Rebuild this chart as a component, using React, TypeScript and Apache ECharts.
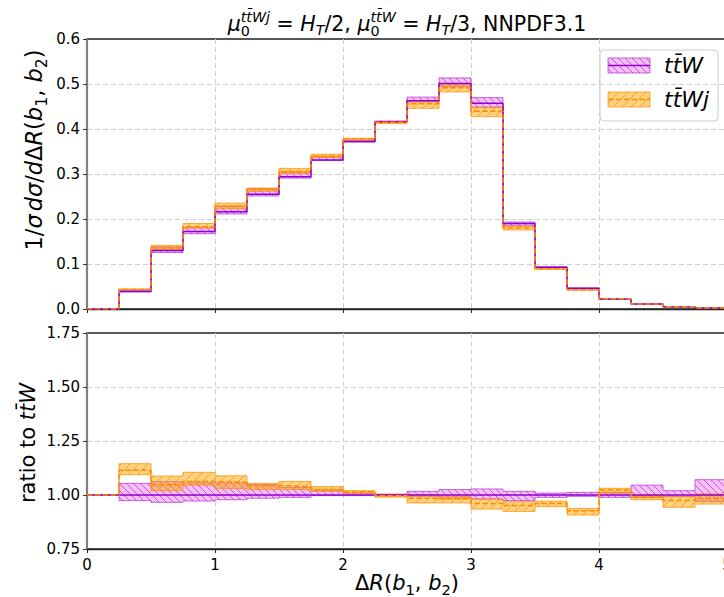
import React, { useEffect, useRef } from 'react';
import * as echarts from 'echarts';

// ---------------- data ----------------
const binEdges = [0, 0.25, 0.5, 0.75, 1, 1.25, 1.5, 1.75, 2, 2.25, 2.5, 2.75, 3, 3.25, 3.5, 3.75, 4, 4.25, 4.5, 4.75, 5];
// normalised distribution of ttW (central)
const ttW = [0, 0.039, 0.130, 0.172, 0.216, 0.255, 0.294, 0.331, 0.372, 0.416, 0.463, 0.501, 0.457, 0.190, 0.093, 0.046, 0.022, 0.011, 0.005, 0.0022];
// ratio ttW / ttW (central, band low, band high)
const ratioW = [1, 1, 1, 1, 1, 1, 1, 1, 1, 1, 1, 1, 1, 1, 1, 1, 1, 1, 1, 1];
const ratioWLo = [1, 0.974, 0.966, 0.972, 0.978, 0.985, 0.989, 0.997, 0.997, 0.996, 0.994, 0.986, 0.981, 0.974, 0.989, 0.994, 0.989, 0.989, 0.994, 0.970];
const ratioWHi = [1, 1.054, 1.062, 1.056, 1.056, 1.048, 1.035, 1.023, 1.010, 1.004, 1.017, 1.025, 1.028, 1.017, 1.009, 1.012, 1.012, 1.046, 1.020, 1.071];
// ratio ttWj / ttW (central, band low, band high)
const ratioJ = [1, 1.115, 1.048, 1.062, 1.059, 1.043, 1.040, 1.025, 1.015, 0.997, 0.985, 0.981, 0.961, 0.951, 0.961, 0.927, 1.023, 0.992, 0.974, 0.985];
const ratioJLo = [1, 1.094, 1.020, 1.045, 1.030, 1.025, 1.025, 1.017, 1.008, 0.990, 0.963, 0.963, 0.935, 0.924, 0.946, 0.907, 1.008, 0.978, 0.943, 0.958];
const ratioJHi = [1, 1.145, 1.088, 1.105, 1.089, 1.054, 1.063, 1.039, 1.020, 1.003, 1.000, 0.994, 0.981, 0.969, 0.972, 0.938, 1.031, 1.000, 0.992, 1.005];

// ---------------- styles ----------------
const FONT = 'DejaVu Sans';
const PURPLE = '#9400d3';
const PURPLE_FILL = 'rgba(238,130,238,0.5)';
const PURPLE_EDGE = 'rgba(160,20,210,0.6)';
const ORANGE = '#ff8c00';
const ORANGE_FILL = 'rgba(255,165,0,0.5)';
const ORANGE_EDGE = 'rgba(255,140,0,0.7)';
const DASH = [5.5, 2.4];

// ---------------- helpers ----------------
let _ctx: any = null;
function measure(t: string, f: number, it?: boolean) {
  if (!_ctx) _ctx = document.createElement('canvas').getContext('2d');
  _ctx.font = `${it ? 'italic ' : ''}${f}px "${FONT}"`;
  return _ctx.measureText(t).width;
}
type P = { t: string; f: number; it?: boolean; dy?: number };
function mathText(segs: (P | P[])[], x: number, y: number, align: 'center' | 'left', rotation = 0, z = 50) {
  const kids: any[] = [];
  let cx = 0;
  for (const seg of segs) {
    const arr = Array.isArray(seg) ? seg : [seg];
    let w = 0;
    for (const p of arr) {
      const pw = measure(p.t, p.f, p.it);
      kids.push({
        type: 'text', x: cx, y: (p.dy || 0) - 0.35 * p.f, silent: true,
        style: { text: p.t, fontSize: p.f, fontFamily: FONT, fontStyle: p.it ? 'italic' : 'normal', fill: '#000', align: 'left', verticalAlign: 'middle' },
      });
      w = Math.max(w, pw);
    }
    cx += w;
  }
  const off = align === 'center' ? -cx / 2 : 0;
  kids.forEach((k) => (k.x += off));
  return { type: 'group', x, y, rotation, z, children: kids };
}

function hatchLines(xa: number, ya: number, xb: number, yb: number, dir: 1 | -1, sp: number, stroke: string, lw = 1) {
  const out: any[] = [];
  if (dir === 1) {
    const cMin = xa - yb, cMax = xb - ya;
    for (let c = Math.ceil(cMin / sp) * sp; c <= cMax; c += sp) {
      const s = Math.max(xa, ya + c), e = Math.min(xb, yb + c);
      if (e > s) out.push({ type: 'line', shape: { x1: s, y1: s - c, x2: e, y2: e - c }, style: { stroke, lineWidth: lw } });
    }
  } else {
    const cMin = xa + ya, cMax = xb + yb;
    for (let c = Math.ceil(cMin / sp) * sp; c <= cMax; c += sp) {
      const s = Math.max(xa, c - yb), e = Math.min(xb, c - ya);
      if (e > s) out.push({ type: 'line', shape: { x1: s, y1: c - s, x2: e, y2: c - e }, style: { stroke, lineWidth: lw } });
    }
  }
  return out;
}

function stepData(vals: number[]) {
  const out: number[][] = [];
  vals.forEach((v, i) => {
    out.push([binEdges[i], v]);
    out.push([binEdges[i + 1], v]);
  });
  return out;
}
function bandData(lo: number[], hi: number[]) {
  return lo.map((l, i) => [binEdges[i], binEdges[i + 1], l, hi[i], i > 0 ? lo[i - 1] : l, i > 0 ? hi[i - 1] : hi[i]]);
}
function bandSeries(data: number[][], gi: number, dir: 1 | -1, sp: number, fill: string, edge: string) {
  return {
    type: 'custom', xAxisIndex: gi, yAxisIndex: gi, clip: true, silent: true,
    data,
    renderItem: (params: any, api: any) => {
      const x0 = api.value(0), x1 = api.value(1), lo = api.value(2), hi = api.value(3), plo = api.value(4), phi = api.value(5);
      const a = api.coord([x0, hi]);
      const b = api.coord([x1, lo]);
      const xa = a[0], ya = a[1], xb = b[0], yb = b[1];
      const pyHi = api.coord([x0, phi])[1];
      const pyLo = api.coord([x0, plo])[1];
      const kids: any[] = [
        { type: 'rect', shape: { x: xa, y: ya, width: xb - xa, height: yb - ya }, style: { fill } },
        ...hatchLines(xa, ya, xb, yb, dir, sp, edge, 1),
        { type: 'line', shape: { x1: xa, y1: ya, x2: xb, y2: ya }, style: { stroke: edge, lineWidth: 1 } },
        { type: 'line', shape: { x1: xa, y1: yb, x2: xb, y2: yb }, style: { stroke: edge, lineWidth: 1 } },
        { type: 'line', shape: { x1: xa, y1: pyHi, x2: xa, y2: ya }, style: { stroke: edge, lineWidth: 1 } },
        { type: 'line', shape: { x1: xa, y1: pyLo, x2: xa, y2: yb }, style: { stroke: edge, lineWidth: 1 } },
      ];
      return { type: 'group', children: kids };
    },
  };
}
function lineSeries(vals: number[], gi: number, color: string, dashed: boolean) {
  return {
    type: 'line', xAxisIndex: gi, yAxisIndex: gi, data: stepData(vals), symbol: 'none', silent: true,
    lineStyle: { color, width: 1.5, type: dashed ? DASH : 'solid' },
  };
}

export default function App() {
  const ref = useRef<HTMLDivElement>(null);
  useEffect(() => {
    if (!ref.current) return;
    const chart = echarts.init(ref.current, null, { renderer: 'svg' });

    const topWLo = ttW.map((v, i) => v * ratioWLo[i]);
    const topWHi = ttW.map((v, i) => v * ratioWHi[i]);
    const topJLo = ttW.map((v, i) => v * ratioJLo[i]);
    const topJHi = ttW.map((v, i) => v * ratioJHi[i]);
    const topJ = ttW.map((v, i) => v * ratioJ[i]);

    const axisLabel = { fontFamily: FONT, fontSize: 15, color: '#000' };
    const split = { show: true, showMinLine: false, showMaxLine: false, lineStyle: { color: '#d0d0d0', type: [5, 3], width: 1 } };
    const xAx = (gi: number, labels: boolean) => ({
      type: 'value', gridIndex: gi, min: 0, max: 5, interval: 1,
      axisLine: { show: true, onZero: false, lineStyle: { color: '#222', width: 1.3 } },
      axisTick: { show: true, length: 4, lineStyle: { color: '#222', width: 1 } },
      axisLabel: labels ? { ...axisLabel, margin: 8 } : { show: false },
      splitLine: split,
    });

    const F = 20.5, s = 14.3;
    const L = 21, ls = 14.7;
    const T = 22.5, ts = 15.7;
    const title = mathText([
      { t: 'μ', f: F, it: true },
      [{ t: '0', f: s, dy: 0.22 * F }, { t: 'tt\u0304Wj', f: s, it: true, dy: -0.45 * F }],
      { t: ' = ', f: F },
      { t: 'H', f: F, it: true },
      { t: 'T', f: s, it: true, dy: 0.2 * F },
      { t: '/2, ', f: F },
      { t: 'μ', f: F, it: true },
      [{ t: '0', f: s, dy: 0.22 * F }, { t: 'tt\u0304W', f: s, it: true, dy: -0.45 * F }],
      { t: ' = ', f: F },
      { t: 'H', f: F, it: true },
      { t: 'T', f: s, it: true, dy: 0.2 * F },
      { t: '/3, NNPDF3.1', f: F },
    ], 407, 31, 'center');

    const yTitleTop = mathText([
      { t: '1/', f: T },
      { t: 'σ', f: T, it: true },
      { t: ' ', f: ts * 0.6 },
      { t: 'd', f: T, it: true },
      { t: 'σ', f: T, it: true },
      { t: '/', f: T },
      { t: 'd', f: T, it: true },
      { t: 'Δ', f: T },
      { t: 'R', f: T, it: true },
      { t: '(', f: T },
      { t: 'b', f: T, it: true },
      { t: '1', f: ts, dy: 0.2 * T },
      { t: ', ', f: T },
      { t: 'b', f: T, it: true },
      { t: '2', f: ts, dy: 0.2 * T },
      { t: ')', f: T },
    ], 42, 150, 'center', Math.PI / 2);

    const yTitleBot = mathText([
      { t: 'ratio to ', f: L },
      { t: 'tt\u0304W', f: L, it: true },
    ], 35, 443, 'center', Math.PI / 2);

    const xTitle = mathText([
      { t: 'Δ', f: L },
      { t: 'R', f: L, it: true },
      { t: '(', f: L },
      { t: 'b', f: L, it: true },
      { t: '1', f: ls, dy: 0.2 * L },
      { t: ', ', f: L },
      { t: 'b', f: L, it: true },
      { t: '2', f: ls, dy: 0.2 * L },
      { t: ')', f: L },
    ], 407, 590, 'center');

    // legend
    const lx = 608, lw = 42, lh = 15, ly1 = 58, ly2 = 92;
    const legend = {
      type: 'group', z: 100,
      children: [
        { type: 'rect', shape: { x: 600, y: 50, width: 118, height: 71, r: 4 }, style: { fill: 'rgba(255,255,255,0.85)', stroke: '#cccccc', lineWidth: 1 } },
        { type: 'rect', shape: { x: lx, y: ly1, width: lw, height: lh }, style: { fill: PURPLE_FILL, stroke: PURPLE_EDGE, lineWidth: 1 } },
        ...hatchLines(lx, ly1, lx + lw, ly1 + lh, 1, 7, PURPLE_EDGE, 1),
        { type: 'line', shape: { x1: lx, y1: ly1 + lh / 2, x2: lx + lw, y2: ly1 + lh / 2 }, style: { stroke: PURPLE, lineWidth: 1.5 } },
        { type: 'rect', shape: { x: lx, y: ly2, width: lw, height: lh }, style: { fill: ORANGE_FILL, stroke: ORANGE_EDGE, lineWidth: 1 } },
        ...hatchLines(lx, ly2, lx + lw, ly2 + lh, -1, 9, ORANGE_EDGE, 1),
        { type: 'line', shape: { x1: lx, y1: ly2 + lh / 2, x2: lx + lw, y2: ly2 + lh / 2 }, style: { stroke: ORANGE, lineWidth: 1.5, lineDash: DASH } },
      ],
    };
    const legText1 = mathText([{ t: 'tt\u0304W', f: 22, it: true }], 664, 73, 'left', 0, 101);
    const legText2 = mathText([{ t: 'tt\u0304Wj', f: 22, it: true }], 664, 107, 'left', 0, 101);

    const option: any = {
      animation: false,
      backgroundColor: '#ffffff',
      grid: [
        { left: 87, top: 39, width: 640, height: 270, outerBoundsMode: 'none', containLabel: false, show: true, borderColor: '#222', borderWidth: 1.3, backgroundColor: 'transparent' },
        { left: 87, top: 333, width: 640, height: 216, outerBoundsMode: 'none', containLabel: false, show: true, borderColor: '#222', borderWidth: 1.3, backgroundColor: 'transparent' },
      ],
      xAxis: [xAx(0, false), xAx(1, true)],
      yAxis: [
        {
          type: 'value', gridIndex: 0, min: 0, max: 0.6, interval: 0.1,
          axisLine: { show: true, lineStyle: { color: '#808080', width: 2.2 } },
          axisTick: { show: true, length: 4, lineStyle: { color: '#333' } },
          axisLabel: { ...axisLabel, margin: 7, formatter: (v: number) => v.toFixed(1) },
          splitLine: split,
        },
        {
          type: 'value', gridIndex: 1, min: 0.75, max: 1.75, interval: 0.25,
          axisLine: { show: true, lineStyle: { color: '#808080', width: 2.2 } },
          axisTick: { show: true, length: 4, lineStyle: { color: '#333' } },
          axisLabel: { ...axisLabel, margin: 7, formatter: (v: number) => v.toFixed(2) },
          splitLine: split,
        },
      ],
      series: [
        bandSeries(bandData(topWLo, topWHi), 0, 1, 7, PURPLE_FILL, PURPLE_EDGE),
        bandSeries(bandData(topJLo, topJHi), 0, -1, 9, ORANGE_FILL, ORANGE_EDGE),
        lineSeries(ttW, 0, PURPLE, false),
        lineSeries(topJ, 0, ORANGE, true),
        bandSeries(bandData(ratioWLo, ratioWHi), 1, 1, 7, PURPLE_FILL, PURPLE_EDGE),
        bandSeries(bandData(ratioJLo, ratioJHi), 1, -1, 9, ORANGE_FILL, ORANGE_EDGE),
        lineSeries(ratioW, 1, PURPLE, false),
        lineSeries(ratioJ, 1, ORANGE, true),
      ],
      graphic: [title, yTitleTop, yTitleBot, xTitle, legend, legText1, legText2],
    };
    chart.setOption(option);
    return () => chart.dispose();
  }, []);
  return <div ref={ref} style={{ position: 'absolute', left: 0, top: 0, width: 724, height: 597 }} />;
}
